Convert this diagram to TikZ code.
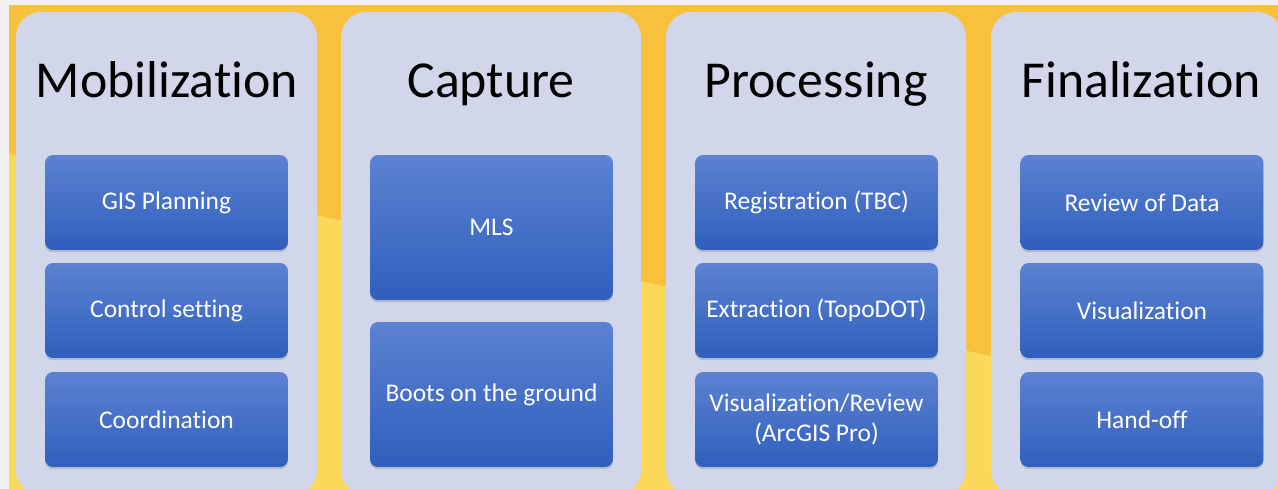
\documentclass[tikz,border=0pt]{standalone}
\usepackage{fontspec}
\setmainfont[Ligatures=NoCommon]{Carlito}
\usetikzlibrary{shadows}

\definecolor{framegray}{HTML}{F0F0F0}
\definecolor{sunorange}{HTML}{F7C13D}
\definecolor{sunyellow}{HTML}{FBD85A}
\definecolor{panelfill}{HTML}{D1D6EA}
\definecolor{tasktop}{HTML}{5C82D1}
\definecolor{taskbottom}{HTML}{2F5FBC}

\tikzset{
  panel/.style={fill=panelfill, rounded corners=0.5cm},
  phase/.style={anchor=base, text=black, font=\fontsize{29.5}{34}\selectfont},
  task/.style={rectangle, rounded corners=0.16cm, top color=tasktop,
    bottom color=taskbottom, text=white, align=center,
    font=\fontsize{14.5}{17.5}\selectfont, minimum width=4.86cm,
    minimum height=1.9cm, inner sep=0pt,
    drop shadow={shadow xshift=0pt, shadow yshift=-1.2pt, opacity=0.35}},
  tall/.style={minimum height=2.9cm}
}

\begin{document}
\begin{tikzpicture}[x=0.02cm, y=-0.02cm]
    \useasboundingbox (0, 0) rectangle (1278, 489);
    \clip (0, 0) rectangle (1278, 489);
    \fill[framegray] (0, 0) rectangle (1278, 489);
    \fill[sunorange] (9, 5) rectangle (1278, 489);
    \fill[sunyellow] (9, 154) .. controls (400, 232) and (800, 310) .. (1278, 421) -- (1278, 489) -- (9, 489) -- cycle;

    \fill[panel] (16, 12) rectangle (317, 495);
    \fill[panel] (341, 12) rectangle (641, 495);
    \fill[panel] (666, 12) rectangle (966, 495);
    \fill[panel] (991, 12) rectangle (1282, 495);

    \node[phase] (mobilization) at (167, 98) {Mobilization};
    \node[phase] (capture) at (491, 98) {Capture};
    \node[phase] (processing) at (816, 98) {Processing};
    \node[phase] (finalization) at (1141, 98) {Finalization};

    \node[task] (gis) at (166.5, 202.5) {GIS Planning};
    \node[task] (control) at (166.5, 310.5) {Control setting};
    \node[task] (coordination) at (166.5, 419.5) {Coordination};

    \node[task, tall] (mls) at (491.5, 227.5) {MLS};
    \node[task, tall] (boots) at (491.5, 394.5) {Boots on the ground};

    \node[task] (registration) at (816.5, 202.5) {Registration (TBC)};
    \node[task] (extraction) at (816.5, 310.5) {Extraction (TopoDOT)};
    \node[task] (review) at (816.5, 419.5) {Visualization/Review\\(ArcGIS Pro)};

    \node[task] (reviewdata) at (1142, 202.5) {Review of Data};
    \node[task] (visualization) at (1142, 310.5) {Visualization};
    \node[task] (handoff) at (1142, 419.5) {Hand-off};
\end{tikzpicture}
\end{document}
